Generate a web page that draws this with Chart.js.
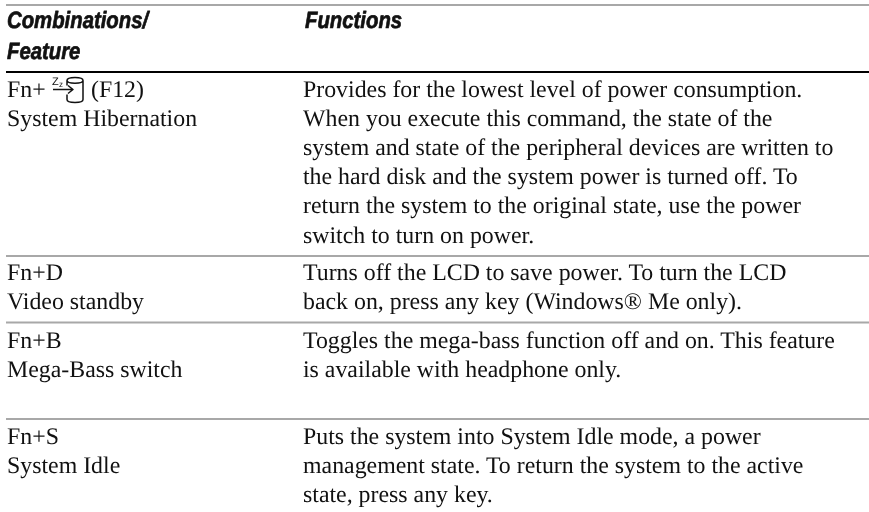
<!DOCTYPE html>
<html>
<head>
<meta charset="utf-8">
<style>
  html, body { margin: 0; padding: 0; background: #fff; }
  #wrap { width: 869px; height: 512px; }
</style>
<script src="https://cdn.jsdelivr.net/npm/chart.js@4"></script>
</head>
<body>
<div id="wrap"><canvas id="table-chart" width="869" height="512"></canvas></div>
<script>
const headerLeft = ['Combinations/', 'Feature'];
const headerRight = ['Functions'];
const featureLines = [
  ['Fn+', 'System Hibernation'],
  ['Fn+D', 'Video standby'],
  ['Fn+B', 'Mega-Bass switch'],
  ['Fn+S', 'System Idle']
];
const functionLines = [
  ['Provides for the lowest level of power consumption.',
   'When you execute this command, the state of the',
   'system and state of the peripheral devices are written to',
   'the hard disk and the system power is turned off. To',
   'return the system to the original state, use the power',
   'switch to turn on power.'],
  ['Turns off the LCD to save power. To turn the LCD',
   'back on, press any key (Windows\u00AE Me only).'],
  ['Toggles the mega-bass function off and on. This feature',
   'is available with headphone only.'],
  ['Puts the system into System Idle mode, a power',
   'management state. To return the system to the active',
   'state, press any key.']
];

// rules and baselines, in axis units (the axes run 1:1 with the page)
const grayRules = [5, 256, 322.5, 419];
const blackRules = [72];
const rowBaselines = [96.5, 280, 347.5, 443.5];
const headerBaselines = [28, 59];
const lineStep = 29.2;
const columnX = [7, 303];
const headerSqueeze = 0.865;

function ruleDataset(y, color, width) {
  return {
    data: [{x: 6, y: y}, {x: 869, y: y}],
    borderColor: color,
    borderWidth: width,
    pointRadius: 0,
    showLine: true
  };
}

/* draws the hibernate key icon next to Fn+ */
function drawIcon(ctx, x, y) {
  ctx.save();
  ctx.translate(x, y);
  ctx.strokeStyle = '#111';
  ctx.fillStyle = '#111';
  ctx.lineWidth = 1.5;
  ctx.font = '11px "Liberation Sans"';
  ctx.fillText('Z', 0, -12);
  ctx.font = '8px "Liberation Sans"';
  ctx.fillText('z', 7, -10);
  ctx.beginPath();
  ctx.moveTo(1, -7); ctx.lineTo(21, -7);
  ctx.moveTo(16, -11); ctx.lineTo(21, -7); ctx.lineTo(16, -3);
  // cylinder
  ctx.moveTo(15, -11); ctx.lineTo(15, -16);
  ctx.bezierCurveTo(15, -20, 31, -20, 31, -16);
  ctx.bezierCurveTo(31, -12.5, 15, -12.5, 15, -16);
  ctx.moveTo(31, -16); ctx.lineTo(31, 3);
  ctx.bezierCurveTo(31, 7, 15, 7, 15, 3);
  ctx.lineTo(15, -2);
  ctx.stroke();
  ctx.restore();
}

const tableText = {
  id: 'tableText',
  afterDatasetsDraw(chart) {
    const ctx = chart.ctx;
    const xs = chart.scales.x;
    const ys = chart.scales.y;
    ctx.save();
    ctx.textBaseline = 'alphabetic';
    ctx.textRendering = 'geometricPrecision';
    ctx.fillStyle = '#111';

    ctx.font = 'italic bold 23.5px "Liberation Sans"';
    ctx.strokeStyle = '#111';
    ctx.lineWidth = 0.7;
    ctx.lineJoin = 'round';
    function headerText(t, x, y) {
      ctx.save();
      ctx.translate(xs.getPixelForValue(x), ys.getPixelForValue(y));
      ctx.scale(headerSqueeze, 1);
      // the original face is heavier than Liberation Sans bold
      ctx.strokeText(t, 0, 0);
      ctx.fillText(t, 0, 0);
      ctx.restore();
    }
    headerLeft.forEach(function(t, i) {
      headerText(t, columnX[0], headerBaselines[i]);
    });
    headerText(headerRight[0], columnX[1] + 2, headerBaselines[0]);

    ctx.font = '23.85px "Liberation Serif"';
    rowBaselines.forEach(function(base, r) {
      featureLines[r].forEach(function(t, i) {
        ctx.fillText(t, xs.getPixelForValue(columnX[0]), ys.getPixelForValue(base + i * lineStep));
      });
      functionLines[r].forEach(function(t, i) {
        ctx.fillText(t, xs.getPixelForValue(columnX[1]), ys.getPixelForValue(base + i * lineStep));
      });
    });
    ctx.fillText('(F12)', xs.getPixelForValue(91), ys.getPixelForValue(rowBaselines[0]));
    drawIcon(ctx, xs.getPixelForValue(52), ys.getPixelForValue(rowBaselines[0]));
    ctx.restore();
  }
};

let datasets = [];
grayRules.forEach(function(y) { datasets.push(ruleDataset(y, '#a8a8a8', 2)); });
blackRules.forEach(function(y) { datasets.push(ruleDataset(y, '#000000', 2)); });

new Chart(document.getElementById('table-chart'), {
  type: 'scatter',
  data: { datasets: datasets },
  plugins: [tableText],
  options: {
    responsive: false,
    animation: false,
    layout: { padding: 0 },
    plugins: { legend: { display: false }, tooltip: { enabled: false } },
    scales: {
      x: { type: 'linear', display: false, min: 0, max: 869 },
      y: { type: 'linear', display: false, min: 0, max: 512, reverse: true }
    }
  }
});
</script>
</body>
</html>
